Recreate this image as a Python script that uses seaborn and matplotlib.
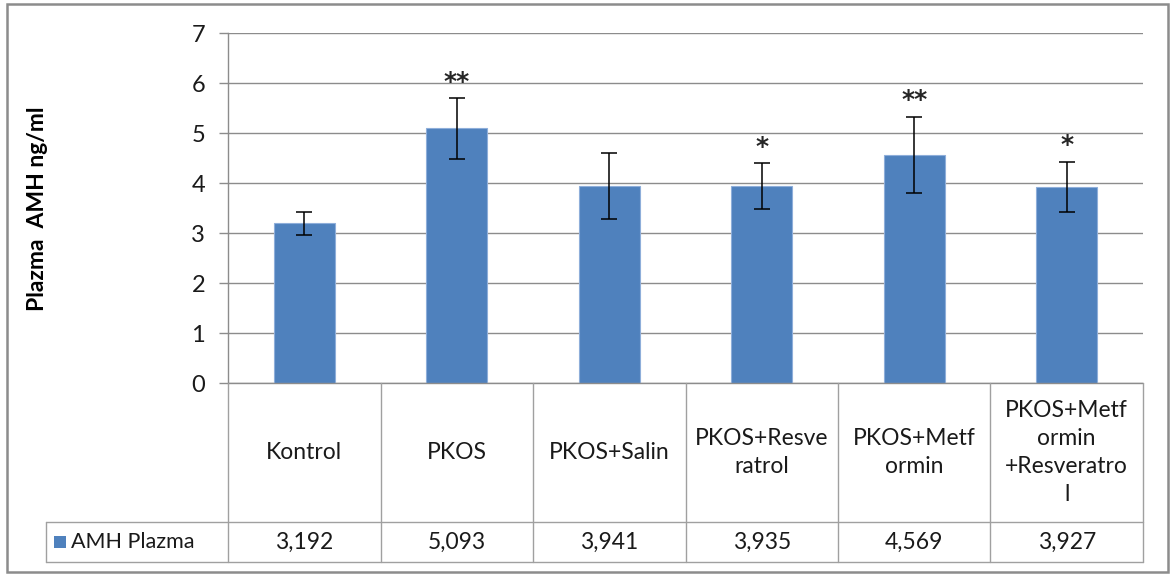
import matplotlib
matplotlib.use("Agg")
import matplotlib.pyplot as plt
import seaborn as sns
import pandas as pd
from matplotlib.patches import Rectangle

categories = ["Kontrol", "PKOS", "PKOS+Salin", "PKOS+Resveratrol",
              "PKOS+Metformin", "PKOS+Metformin+Resveratrol"]
table_labels = ["Kontrol", "PKOS", "PKOS+Salin", "PKOS+Resve\nratrol",
                "PKOS+Metf\normin", "PKOS+Metf\normin\n+Resveratro\nl"]
values = [3.192, 5.093, 3.941, 3.935, 4.569, 3.927]
value_texts = ["3,192", "5,093", "3,941", "3,935", "4,569", "3,927"]
errors = [0.23, 0.61, 0.66, 0.46, 0.76, 0.50]
stars = ["", "**", "", "*", "**", "*"]
series_name = "AMH Plazma"
ylabel = "Plazma  AMH ng/ml"

sns.set_style("white")
plt.rcParams["font.family"] = ["Lato", "DejaVu Sans"]

W, H = 1174, 579
fig = plt.figure(figsize=(W / 100, H / 100), dpi=100)

def fx(x):
    return x / W

def fy(y):
    return 1 - y / H

bar_color = "#4F81BD"
grid_color = "#8C8C8C"
table_color = "#A0A0A0"
text_color = "#1A1A1A"
fs_table = 16.5

# main axes
ax = fig.add_axes([fx(228), fy(383), fx(1143) - fx(228), fy(33) - fy(383)])
df = pd.DataFrame({"cat": categories, "val": values})
sns.barplot(data=df, x="cat", y="val", color=bar_color, width=0.4, saturation=1,
            errorbar=None, ax=ax, edgecolor="#8EAEDA", linewidth=0.8, zorder=3)
ax.errorbar(range(len(values)), values, yerr=errors, fmt="none",
            ecolor="black", elinewidth=1.1, capsize=6, capthick=1.1, zorder=4)
for i, (v, e, s) in enumerate(zip(values, errors, stars)):
    if s:
        ax.annotate(s, (i, v + e), xytext=(0, 3), textcoords="offset points",
                    ha="center", va="bottom", fontsize=18, fontweight="bold",
                    fontfamily="DejaVu Sans")

ax.set_xlim(-0.5, len(values) - 0.5)
ax.set_ylim(0, 7)
ax.set_yticks(range(0, 8))
ax.yaxis.grid(True, color=grid_color, linewidth=1.0, zorder=0)
ax.set_axisbelow(True)
ax.set_xticks([])
ax.set_xlabel("")
ax.set_ylabel("")
for sp in ["top", "right", "bottom"]:
    ax.spines[sp].set_visible(False)
ax.spines["left"].set_color(grid_color)
ax.spines["left"].set_linewidth(1.0)
ax.tick_params(axis="y", direction="out", length=6.5, width=1.0, color=grid_color,
               pad=10, labelsize=17, labelcolor=text_color, left=True)

# y label
fig.text(fx(38), fy(209), ylabel, rotation=90, ha="center", va="center",
         fontsize=16.5, fontweight="bold", color="black")

# data table axes
tab_left_px, tab_right_px = 46, 1143
tab_top_px, tab_bot_px = 383, 562
col_w_px = (1143 - 228) / len(values)
tax = fig.add_axes([fx(tab_left_px), fy(tab_bot_px),
                    fx(tab_right_px) - fx(tab_left_px), fy(tab_top_px) - fy(tab_bot_px)])
left_data = -0.5 - (228 - tab_left_px) / col_w_px
tax.set_xlim(left_data, len(values) - 0.5)
tax.set_ylim(0, 1)
tax.axis("off")
row_div = (tab_bot_px - 522) / (tab_bot_px - tab_top_px)

lw = 1.0
tax.plot([-0.5, len(values) - 0.5], [1, 1], color=grid_color, lw=lw, clip_on=False)
tax.plot([left_data, len(values) - 0.5], [row_div, row_div], color=table_color, lw=lw, clip_on=False)
tax.plot([left_data, len(values) - 0.5], [0, 0], color=table_color, lw=lw, clip_on=False)
for k in range(len(values) + 1):
    tax.plot([k - 0.5, k - 0.5], [0, 1], color=table_color, lw=lw, clip_on=False)
tax.plot([left_data, left_data], [0, row_div], color=table_color, lw=lw, clip_on=False)

for i, (lab, vt) in enumerate(zip(table_labels, value_texts)):
    tax.text(i, (1 + row_div) / 2, lab, ha="center", va="center", fontsize=fs_table,
             linespacing=1.42, color=text_color)
    tax.text(i, row_div / 2, vt, ha="center", va="center", fontsize=fs_table, color=text_color)

# legend key in table
fig.patches.append(Rectangle((fx(54), fy(548)), fx(12), 12 / H, transform=fig.transFigure,
                             facecolor=bar_color, edgecolor="none"))
fig.text(fx(71), fy(542), series_name, ha="left", va="center", fontsize=15.5, color=text_color)

# outer frame
fig.patches.append(Rectangle((fx(7), fy(572)), fx(1168) - fx(7), fy(4) - fy(572),
                             transform=fig.transFigure, facecolor="none",
                             edgecolor="#8C8C8C", linewidth=1.8))

fig.savefig("out.png", dpi=100)
